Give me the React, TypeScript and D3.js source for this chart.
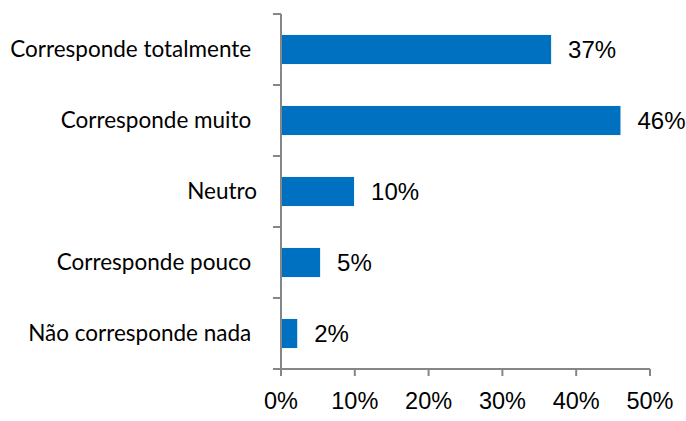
import React, { useEffect } from 'react';
import * as d3 from 'd3';

// trailing spaces as typed in the source spreadsheet
const categories = [
  'Corresponde totalmente ',
  'Corresponde muito ',
  'Neutro',
  'Corresponde pouco ',
  'Não corresponde nada ',
];
const values = [36.6, 46.0, 9.9, 5.3, 2.2];
const xTicks = [0, 10, 20, 30, 40, 50];

const W = 686;
const H = 421;
const M = { top: 14, right: 36, bottom: 52, left: 281 };
const AXIS = '#868686';
const BAR = '#0070C0';

export default function App() {
  useEffect(() => {
    document.body.style.margin = '0';
  }, []);

  const x = d3.scaleLinear().domain([0, 50]).range([M.left, 650]);
  const y = d3.scaleBand<string>()
    .domain(categories)
    .range([M.top, H - M.bottom])
    .paddingInner(0.59)
    .paddingOuter(0.295);
  const step = y.step();
  const bottom = H - M.bottom;
  const bounds = d3.range(categories.length + 1).map(i => M.top + i * step);

  return (
    <svg width={W} height={H} style={{ display: 'block', background: '#fff' }}>
      {/* bars */}
      {categories.map((c, i) => (
        <rect key={c} x={x(0)} y={y(c)} width={x(values[i]) - x(0)} height={y.bandwidth()} fill={BAR} />
      ))}
      {/* value labels */}
      {categories.map((c, i) => (
        <text key={c} x={x(values[i]) + 17} y={(y(c) ?? 0) + y.bandwidth() / 2} dy="0.36em"
          fontFamily="'Liberation Sans', Arial, sans-serif" fontSize={24} fill="#000">
          {Math.round(values[i])}%
        </text>
      ))}
      {/* category axis */}
      <line x1={x(0)} x2={x(0)} y1={M.top} y2={bottom + 7} stroke={AXIS} strokeWidth={2} />
      {bounds.map((b, i) => (
        <line key={i} x1={x(0) - 8} x2={x(0)} y1={b} y2={b} stroke={AXIS} strokeWidth={2} />
      ))}
      {categories.map(c => (
        <text key={c} x={257} y={(y(c) ?? 0) + y.bandwidth() / 2} dy="0.35em" textAnchor="end"
          fontFamily="Lato, 'Open Sans', sans-serif" fontSize={22.5} fill="#000"
          style={{ whiteSpace: 'pre' }}>
          {c}
        </text>
      ))}
      {/* value axis */}
      <line x1={x(0) - 8} x2={x(50)} y1={bottom} y2={bottom} stroke={AXIS} strokeWidth={2} />
      {xTicks.map(t => (
        <g key={t}>
          <line x1={x(t)} x2={x(t)} y1={bottom} y2={bottom + 7} stroke={AXIS} strokeWidth={2} />
          <text x={x(t)} y={bottom + 40} textAnchor="middle"
            fontFamily="'Liberation Sans', Arial, sans-serif" fontSize={23.5} fill="#000">
            {t}%
          </text>
        </g>
      ))}
    </svg>
  );
}
